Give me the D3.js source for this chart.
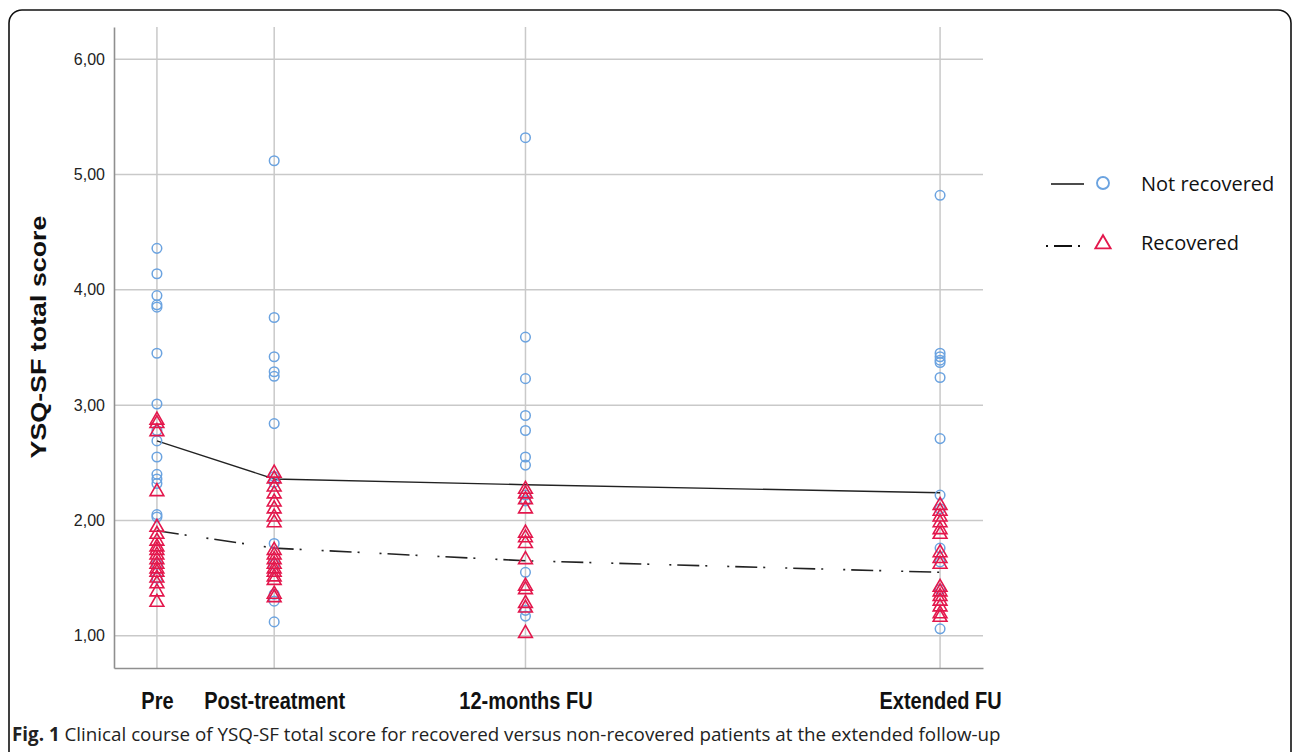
<!DOCTYPE html>
<html>
<head>
<meta charset="utf-8">
<script src="https://cdn.jsdelivr.net/npm/d3@7"></script>
<style>
  body { margin: 0; background: #fff; }
  svg { display: block; }
</style>
</head>
<body>
<div id="chart"></div>
<script>
// time points (months from baseline) and their labels
var timepoints = ["Pre", "Post-treatment", "12-months FU", "Extended FU"];
var months = [0, 5.6, 17.6, 37.4];
var yTicks = [1, 2, 3, 4, 5, 6];

// individual scores, not recovered (circles)
var notRecPre = [4.36, 4.14, 3.95, 3.87, 3.85, 3.45, 3.01, 2.78, 2.69, 2.55, 2.40, 2.36, 2.32, 2.05, 2.03, 1.62, 1.50];
var notRecPost = [5.12, 3.76, 3.42, 3.29, 3.25, 2.84, 2.38, 2.33, 1.80, 1.62, 1.36, 1.30, 1.12];
var notRec12 = [5.32, 3.59, 3.23, 2.91, 2.78, 2.55, 2.48, 2.22, 2.17, 1.55, 1.22, 1.17];
var notRecExt = [4.82, 3.45, 3.42, 3.39, 3.37, 3.24, 2.71, 2.22, 2.10, 1.76, 1.64, 1.40, 1.06];

// individual scores, recovered (triangles)
var recPre = [2.87, 2.84, 2.77, 2.25, 1.94, 1.88, 1.82, 1.77, 1.74, 1.70, 1.66, 1.62, 1.58, 1.55, 1.50, 1.45, 1.38, 1.29];
var recPost = [2.41, 2.36, 2.29, 2.23, 2.16, 2.10, 2.03, 1.98, 1.74, 1.70, 1.66, 1.62, 1.58, 1.55, 1.51, 1.48, 1.36, 1.33];
var rec12 = [2.27, 2.23, 2.18, 2.10, 1.89, 1.85, 1.80, 1.66, 1.43, 1.40, 1.28, 1.24, 1.02];
var recExt = [2.13, 2.08, 2.03, 1.98, 1.92, 1.88, 1.72, 1.67, 1.62, 1.42, 1.38, 1.34, 1.30, 1.25, 1.19, 1.16];

// group means
var notRecMean = [2.69, 2.36, 2.31, 2.24];
var recMean = [1.91, 1.76, 1.65, 1.55];

var width = 1292,
    height = 752;

var blue = "#6ba3e0",
    red = "#e3174c";

var svg = d3.select("#chart")
  .append("svg")
  .attr("width", width)
  .attr("height", height);

// outer figure frame
svg.append("rect")
  .attr("x", 9).attr("y", 10)
  .attr("width", 1282).attr("height", 800)
  .attr("rx", 13)
  .attr("fill", "none")
  .attr("stroke", "#111")
  .attr("stroke-width", 1.6);

var x = d3.scaleLinear().domain([-2.05, 39.45]).range([114, 983]);
var y = d3.scaleLinear().domain([0.72, 6.28]).range([668, 27]);

var comma = d3.formatLocale({decimal: ",", thousands: ".", grouping: [3], currency: ["", ""]}).format(".2f");

// grid
svg.append("g").selectAll("line")
  .data(yTicks)
  .enter().append("line")
  .attr("x1", x.range()[0]).attr("x2", x.range()[1])
  .attr("y1", function(d) { return y(d) }).attr("y2", function(d) { return y(d) })
  .attr("stroke", "#c9c9c9").attr("stroke-width", 1.5);

svg.append("g").selectAll("line")
  .data(months)
  .enter().append("line")
  .attr("x1", function(d) { return x(d) }).attr("x2", function(d) { return x(d) })
  .attr("y1", y.range()[0]).attr("y2", y.range()[1])
  .attr("stroke", "#c9c9c9").attr("stroke-width", 1.5);

// axes
var yAxis = svg.append("g")
  .attr("transform", "translate(" + x.range()[0] + ",0)")
  .call(d3.axisLeft(y).tickValues(yTicks).tickSize(0).tickPadding(9).tickFormat(comma));
yAxis.select(".domain").attr("stroke", "#8f8f8f").attr("stroke-width", 1.6);
yAxis.selectAll("text")
  .attr("font-family", "Liberation Sans, Arial, sans-serif")
  .attr("font-size", 16).attr("fill", "#222");

var xAxis = svg.append("g")
  .attr("transform", "translate(0," + y.range()[0] + ")")
  .call(d3.axisBottom(x).tickValues(months).tickSize(0)
    .tickFormat(function(d, i) { return timepoints[i] }));
xAxis.select(".domain").attr("stroke", "#8f8f8f").attr("stroke-width", 1.6);
// the labels in the figure are drawn taller than wide
xAxis.selectAll("text")
  .attr("y", 0).attr("dy", 0)
  .attr("transform", "translate(0,41) scale(1,1.22)")
  .attr("font-family", "Liberation Sans, Arial, sans-serif")
  .attr("font-weight", "bold")
  .attr("font-size", 20).attr("fill", "#111");

// y axis title
svg.append("text")
  .attr("transform", "translate(46,337) rotate(-90) scale(1.22,1)")
  .attr("text-anchor", "middle")
  .attr("font-family", "Liberation Sans, Arial, sans-serif")
  .attr("font-weight", "bold")
  .attr("font-size", 22)
  .attr("fill", "#111")
  .text("YSQ-SF total score");

// mean lines
var line = d3.line()
  .x(function(d, i) { return x(months[i]) })
  .y(function(d) { return y(d) });

svg.append("path")
  .datum(notRecMean)
  .attr("d", line)
  .attr("fill", "none")
  .attr("stroke", "#222")
  .attr("stroke-width", 1.4);

svg.append("path")
  .datum(recMean)
  .attr("d", line)
  .attr("fill", "none")
  .attr("stroke", "#222")
  .attr("stroke-width", 1.6)
  .attr("stroke-dasharray", "22,6,2,20,2,6");

// flatten the individual scores into points
function toPoints(cols) {
  var pts = [];
  cols.forEach(function(vals, i) {
    vals.forEach(function(v) { pts.push({t: months[i], v: v}) });
  });
  return pts;
}

var circlePts = toPoints([notRecPre, notRecPost, notRec12, notRecExt]);
var trianglePts = toPoints([recPre, recPost, rec12, recExt]);

svg.append("g").selectAll("circle")
  .data(circlePts)
  .enter().append("circle")
  .attr("cx", function(d) { return x(d.t) })
  .attr("cy", function(d) { return y(d.v) })
  .attr("r", 4.8)
  .attr("fill", "none")
  .attr("stroke", blue)
  .attr("stroke-width", 1.5);

var tri = d3.symbol().type(d3.symbolTriangle).size(82);

svg.append("g").selectAll("path")
  .data(trianglePts)
  .enter().append("path")
  .attr("d", tri)
  .attr("transform", function(d) { return "translate(" + x(d.t) + "," + y(d.v) + ")" })
  .attr("fill", "none")
  .attr("stroke", red)
  .attr("stroke-width", 1.6);

// legend
var legend = svg.append("g").attr("font-family", "Open Sans, Noto Sans, sans-serif").attr("font-size", 20).attr("fill", "#111");

legend.append("line")
  .attr("x1", 1051).attr("x2", 1084).attr("y1", 184).attr("y2", 184)
  .attr("stroke", "#111").attr("stroke-width", 1.6);
legend.append("circle")
  .attr("cx", 1103).attr("cy", 183).attr("r", 6)
  .attr("fill", "none").attr("stroke", blue).attr("stroke-width", 1.9);
legend.append("text").attr("x", 1141).attr("y", 191).text("Not recovered");

legend.append("line")
  .attr("x1", 1046).attr("x2", 1084).attr("y1", 246).attr("y2", 246)
  .attr("stroke", "#111").attr("stroke-width", 1.8)
  .attr("stroke-dasharray", "2,6,18,6,2,20");
legend.append("path")
  .attr("d", d3.symbol().type(d3.symbolTriangle).size(100))
  .attr("transform", "translate(1103,244)")
  .attr("fill", "none").attr("stroke", red).attr("stroke-width", 1.9);
legend.append("text").attr("x", 1141).attr("y", 250).text("Recovered");

// caption
var caption = svg.append("text")
  .attr("x", 12).attr("y", 741)
  .attr("font-family", "Open Sans, Noto Sans, sans-serif")
  .attr("font-size", 18.8)
  .attr("fill", "#222");
caption.append("tspan").attr("font-weight", "bold").text("Fig. 1");
caption.append("tspan").text(" Clinical course of YSQ-SF total score for recovered versus non-recovered patients at the extended follow-up");
</script>
</body>
</html>
